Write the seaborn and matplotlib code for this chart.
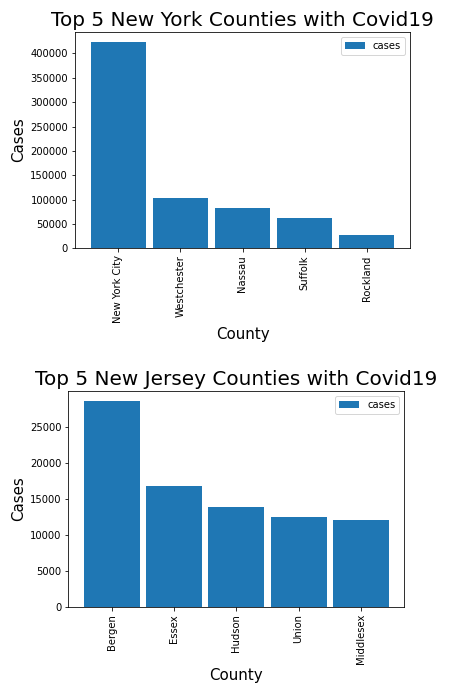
import matplotlib
matplotlib.use("Agg")
import matplotlib.pyplot as plt
import seaborn as sns

ny_counties = ["New York City", "Westchester", "Nassau", "Suffolk", "Rockland"]
ny_cases = [423500, 103200, 82650, 62150, 27300]

nj_counties = ["Bergen", "Essex", "Hudson", "Union", "Middlesex"]
nj_cases = [28550, 16770, 13860, 12470, 12060]

bar_color = "#1f77b4"

# original looks like a 72 dpi render
fig = plt.figure(figsize=(476 / 72, 697 / 72), dpi=72)
ax1 = fig.add_axes([75 / 476, 1 - 248.3 / 697, 335 / 476, 216.6 / 697])
ax2 = fig.add_axes([68.3 / 476, 1 - 607 / 697, 336 / 476, 216.3 / 697])


def draw(ax, counties, cases, title):
    sns.barplot(x=counties, y=cases, ax=ax, color=bar_color, saturation=1,
                width=0.9, label="cases")
    ax.set_xlim(-0.7, 4.7)
    ax.set_ylim(0, max(cases) * 1.05)
    ax.set_title(title, fontsize=20)
    ax.set_xlabel("County", fontsize=15)
    ax.set_ylabel("Cases", fontsize=15)
    ax.tick_params(axis="both", labelsize=10)
    ax.tick_params(axis="x", labelrotation=90)
    ax.legend(loc="upper right", fontsize=10)


draw(ax1, ny_counties, ny_cases, "Top 5 New York Counties with Covid19")
draw(ax2, nj_counties, nj_cases, "Top 5 New Jersey Counties with Covid19")

fig.savefig("out.png", dpi=72)
